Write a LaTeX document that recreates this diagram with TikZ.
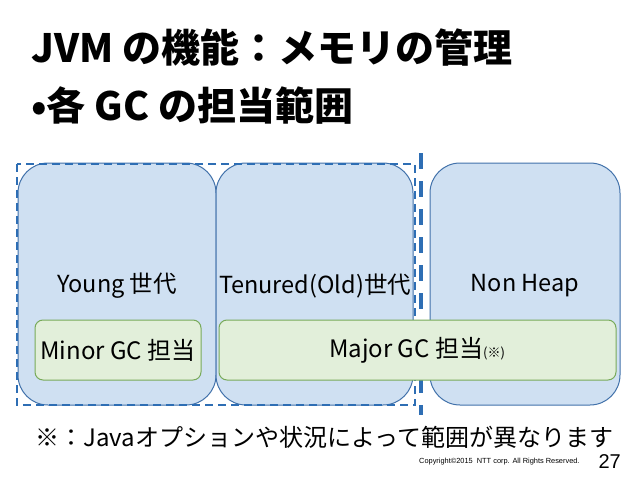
\documentclass[tikz,border=0pt]{standalone}
\usepackage{fontspec}
\setmainfont{Noto Sans CJK JP}
\newfontfamily\arialfont{Liberation Sans}
\definecolor{boxfill}{RGB}{207,224,242}
\definecolor{boxline}{RGB}{65,113,170}
\definecolor{gcfill}{RGB}{226,239,218}
\definecolor{gcline}{RGB}{120,170,90}
\definecolor{dashblue}{RGB}{46,110,180}
\begin{document}
\begin{tikzpicture}[x=1pt,y=-1pt,
  region/.style={draw=boxline,fill=boxfill,line width=1pt,rounded corners=30pt},
  gcbox/.style={draw=gcline,fill=gcfill,line width=1pt,rounded corners=8pt},
  lbl/.style={inner sep=0pt,font=\fontsize{23.5}{28}\selectfont},
]
\useasboundingbox (0,0) rectangle (638,479);
% titles
\node[anchor=west,inner sep=0pt,font=\fontsize{39}{46}\selectfont\bfseries] (title) at (31,48) {JVM の機能：メモリの管理};
\node[anchor=west,inner sep=0pt,font=\fontsize{39}{46}\selectfont\bfseries] (sub) at (31,106) {•各 GC の担当範囲};
% regions
\draw[region] (18,163) rectangle (216,405);
\draw[region] (216,163) rectangle (413,405);
\draw[region] (430,163) rectangle (620,405);
% heap dashed frame
\draw[dashblue,line width=1.8pt,dash pattern=on 8pt off 5pt] (17,164) rectangle (415,405);
% split line
\coordinate (splittop) at (421,153);
\coordinate (splitbot) at (421,415);
\draw[dashblue,line width=3.5pt,dash pattern=on 16pt off 12pt] (splittop) -- (splitbot);
% labels
\node[lbl] (young) at (117,286) {Young 世代};
\node[lbl] (tenured) at (315,286) {Tenured(Old)世代};
\node[lbl] (nonheap) at (525,286) {Non Heap};
% gc boxes
\draw[gcbox] (35,320) rectangle (201,380);
\node[lbl,font=\fontsize{24}{28}\selectfont] (minor) at (118,350) {Minor GC 担当};
\draw[gcbox] (219,320) rectangle (616,380);
\node[lbl,font=\fontsize{24}{28}\selectfont] (major) at (417,350) {Major GC 担当{\fontsize{13}{15}\selectfont(※)}};
% footnote
\node[anchor=west,inner sep=0pt,font=\fontsize{24}{28}\selectfont] (note) at (35,437) {※：Javaオプションや状況によって範囲が異なります};
\node[anchor=west,inner sep=0pt,font=\arialfont\fontsize{7.4}{9}\selectfont] (copy) at (419,462) {Copyright©2015\ \ NTT corp. All Rights Reserved.};
\node[anchor=east,inner sep=0pt,font=\arialfont\fontsize{20}{24}\selectfont] (page) at (621,462) {27};
\end{tikzpicture}
\end{document}
